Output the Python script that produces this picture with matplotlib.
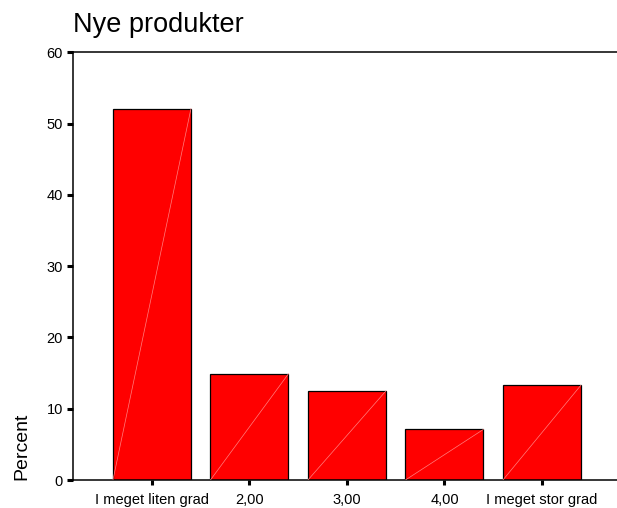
import matplotlib
matplotlib.use("Agg")
import matplotlib.pyplot as plt

categories = ["I meget liten grad", "2,00", "3,00", "4,00", "I meget stor grad"]
percent = [52.1, 14.9, 12.5, 7.1, 13.3]
yticks = [0, 10, 20, 30, 40, 50, 60]

plt.rcParams['font.family'] = ['Liberation Sans', 'DejaVu Sans']

fig = plt.figure(figsize=(6.17, 5.08), dpi=100)
ax = fig.add_axes([72.7/617, 28/508, 1 - 72.7/617, (480-52.3)/508])

x = list(range(len(categories)))
w = 0.8
ax.bar(x, percent, width=w, color="#ff0000", edgecolor="black", linewidth=0.9, zorder=2)
for xi, v in zip(x, percent):
    ax.plot([xi - w/2, xi + w/2], [0, v], color="#ff8080", linewidth=0.5, zorder=3)

ax.set_xlim(-0.813, 4.77)
ax.set_ylim(0, 60)
ax.set_yticks(yticks)
ax.set_xticks(x)
ax.set_xticklabels(categories, fontsize=10.5)
ax.tick_params(axis='y', labelsize=10.5, length=4, width=2.2, direction='out', pad=3)
ax.tick_params(axis='x', length=3.5, width=2.2, direction='out', pad=6)

for s in ['left', 'bottom', 'top']:
    ax.spines[s].set_linewidth(1.1)
ax.spines['right'].set_visible(False)

ax.set_ylabel("Percent", fontsize=14, loc='bottom', labelpad=12)

fig.text(72.7/617, 1 - 32/508, "Nye produkter", fontsize=19.5, ha='left', va='baseline')

fig.savefig("out.png", dpi=100)
